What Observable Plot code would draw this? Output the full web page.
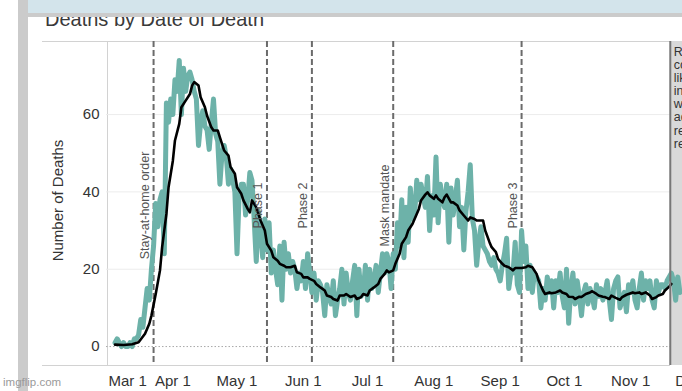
<!DOCTYPE html>
<html><head><meta charset="utf-8">
<script src="https://cdn.jsdelivr.net/npm/d3@7"></script>
<script src="https://cdn.jsdelivr.net/npm/@observablehq/plot@0.6"></script>
<style>
html,body{margin:0;padding:0;background:#fff;width:682px;height:391px;overflow:hidden;font-family:"Liberation Sans",Arial,sans-serif;}
.abs{position:absolute;}
#leftStrip{left:18px;top:0;width:10px;height:391px;background:#cbcbcb;z-index:3;}
#topGray{left:18px;top:0;width:664px;height:17px;background:#cbcbcb;z-index:3;}
#topBlue{left:28px;top:0;width:654px;height:13px;background:#d3e4eb;z-index:4;}
#title{left:45px;top:9px;font-size:20px;line-height:20px;color:#3a3a3a;z-index:2;white-space:nowrap;}
#frameH{left:42px;top:41px;width:628px;height:323px;border-top:1px solid #d2d2d2;border-bottom:1px solid #d2d2d2;z-index:0;}
#frameV{left:107px;top:41px;width:1px;height:325px;background:#d2d2d2;z-index:0;}
#chart{left:0;top:0;z-index:1;}
#wm{left:3px;top:376px;font-size:11.5px;color:#9a9a9a;z-index:5;}
</style></head><body>
<div id="frameH" class="abs"></div>
<div id="frameV" class="abs"></div>
<div id="chart" class="abs"></div>
<div id="title" class="abs">Deaths by Date of Death</div>
<div id="leftStrip" class="abs"></div>
<div id="topGray" class="abs"></div>
<div id="topBlue" class="abs"></div>
<div id="wm" class="abs">imgflip.com</div>
<script>
// Daily deaths, one value per day starting 2020-03-05
const dailyStartDate = "2020-03-05";
const dailyDeaths = [
 1,2,1,0,1,0,0,1,0,2,
 2,3,7,5,10,15,12,20,26,37,
 31,38,40,24,63,58,64,60,69,66,
 74,60,72,66,70,71,69,66,64,52,
 58,61,57,56,51,58,64,55,53,42,
 50,52,49,42,46,43,40,24,39,42,
 42,34,38,45,43,33,22,35,30,23,
 33,25,32,19,25,20,16,26,12,27,
 20,24,19,22,20,15,19,17,22,15,
 24,19,14,19,12,17,16,14,8,16,
 13,11,17,8,12,15,20,11,19,14,
 12,17,21,8,20,13,14,21,12,20,
 15,17,21,14,19,24,19,24,22,15,
 24,20,32,26,38,23,36,27,41,33,
 34,43,38,42,39,36,44,30,39,34,
 49,32,42,38,36,42,27,41,34,38,
 43,31,36,25,35,40,47,33,30,21,
 27,31,26,25,24,22,21,23,20,19,
 17,21,24,28,15,19,19,27,16,14,
 30,22,26,15,21,14,19,18,17,10,
 15,12,18,14,17,10,17,14,19,13,
 10,20,6,15,19,11,17,13,8,14,
 16,11,15,13,10,16,13,15,12,14,
 17,12,7,15,17,18,10,12,14,9,
 16,14,17,12,10,15,19,12,17,15,
 17,12,10,17,14,16,16,15,17,18,
 19,17,12,18,14
];
// 7-day average line, read at these dates
const avgDates = ["03-05","03-09","03-13","03-16","03-19","03-21","03-22","03-24","03-26","03-27","03-29","03-30",
 "04-01","04-02","04-04","04-05","04-07","04-09","04-10","04-11","04-13","04-14","04-16","04-17","04-19","04-20","04-22","04-23","04-25","04-27","04-28","04-30",
 "05-01","05-03","05-04","05-06","05-07","05-08","05-10","05-12","05-14","05-15","05-17","05-18","05-20","05-21","05-23","05-24","05-26","05-28","05-29","05-31",
 "06-01","06-03","06-04","06-06","06-07","06-09","06-11","06-12","06-14","06-15","06-17","06-18","06-20","06-21","06-23","06-25","06-26","06-28","06-29",
 "07-01","07-02","07-04","07-06","07-07","07-09","07-10","07-11","07-13","07-14","07-16","07-17","07-19","07-20","07-22","07-23","07-25","07-26","07-28","07-29","07-30",
 "08-01","08-02","08-03","08-05","08-06","08-07","08-09","08-10","08-12","08-13","08-15","08-17","08-18","08-20","08-21","08-23","08-24","08-25","08-27","08-28","08-30","08-31",
 "09-02","09-03","09-05","09-07","09-08","09-10","09-11","09-13","09-14","09-16","09-18","09-19","09-21","09-22","09-24","09-25","09-27","09-29","09-30",
 "10-02","10-03","10-05","10-06","10-08","10-09","10-11","10-13","10-14","10-16","10-17","10-19","10-20","10-22","10-23","10-25","10-27","10-28","10-30","10-31",
 "11-02","11-03","11-05","11-06","11-08","11-10","11-11","11-13","11-14","11-16","11-17","11-19","11-20"];
const avgValues = [0.5,0.4,0.6,1.1,3.3,5.9,8.0,13.6,19.7,25.7,34.3,41.2,
 48,53.3,57.6,61.9,63.6,65.3,67.5,68.4,67.5,64.5,61.9,59.7,56.7,55.9,55.9,54.1,50.7,49.4,46.4,44.7,
 41.2,39.5,37.8,35.6,34.7,37.8,36,32.6,30,26.6,24.8,23.1,22.2,21.4,20.9,20.5,20.5,20.9,19.2,18.8,
 17.9,17.9,17.5,17,16.2,15.3,14.5,13.2,12.8,12.3,11.9,13.2,13.2,13.6,12.8,13.2,12.3,12.8,13.6,
 13.2,14.5,15.3,16.2,17.5,18.8,19.7,19.2,19.7,21.4,24,26.6,28.3,30,31.7,33,35.6,37.8,39.3,39.9,39.1,
 38.2,39.1,38.2,37.3,38.6,39.3,37.3,37.3,36.5,35.2,33.9,32.6,33.4,33,32.6,32.6,32.6,30,27,25.7,24.4,22.7,
 21.4,20.9,20.5,19.7,20.3,20.3,20.3,20.5,20.9,20.5,18.8,17,14.5,13.6,14,13.8,14,14.5,14,
 13.6,12.9,12.8,12.3,12.9,12.8,13.6,14,14.3,13.6,13.2,12.9,12.8,12.3,13.2,12.6,12.1,12.8,13.4,13.6,
 14,13.8,14,13.6,14,13.2,12.3,12.8,13.2,13.6,14.5,15.5,16.2];
const eventDates = ["03-23","05-15","06-05","07-13","09-11"];
const eventLabels = ["Stay-at-home order","Phase 1","Phase 2","Mask mandate","Phase 3"];
const yTicks = [0,20,40,60];
const gridValues = [20,40,60];
const xTickDates = ["04-01","05-01","06-01","07-01","08-01","09-01","10-01","11-01","12-01"];
const xTickLabels = ["Apr 1","May 1","Jun 1","Jul 1","Aug 1","Sep 1","Oct 1","Nov 1","Dec 1"];
const firstTickDate = "03-01";
const firstTickLabel = "Mar 1";
const panelStartDate = "2020-11-19T12:00:00Z";
const panelEndDate = "2020-11-26T00:00:00Z";
const panelNote = "Recent\ncounts\nlikely\nincomplete,\nwill\nadjust as\nreports are\nreceived.";
const yLabel = "Number of Deaths";

const parse = s => new Date("2020-" + s + "T00:00:00Z");
const start = new Date(dailyStartDate + "T00:00:00Z");
const daily = dailyDeaths.map((v, i) => ({date: new Date(start.getTime() + i * 864e5), value: v}));
const avg = avgDates.map((d, i) => ({date: parse(d), value: avgValues[i]}));
const events = eventDates.map((d, i) => ({date: parse(d), label: eventLabels[i]}));
const xTicks = xTickDates.map((d, i) => ({date: parse(d), label: xTickLabels[i]}));
const panel = [{x1: new Date(panelStartDate), x2: new Date(panelEndDate)}];
const font = "Liberation Sans, Arial, sans-serif";

const chart = Plot.plot({
  width: 682, height: 391,
  marginLeft: 106, marginRight: 0, marginTop: 41, marginBottom: 26,
  style: {background: "transparent", fontFamily: font, overflow: "hidden"},
  x: {type: "utc", domain: [parse(firstTickDate), new Date("2020-11-25T05:00:00Z")], axis: null},
  y: {domain: [-4.9, 78.9], axis: null},
  marks: [
    Plot.ruleY(gridValues, {stroke: "#ececec", strokeWidth: 1}),
    Plot.ruleY([0], {stroke: "#a8a8a8", strokeDasharray: "1.5,2"}),
    Plot.rect(panel, {x1: "x1", x2: "x2", fill: "#d9d9d9"}),
    Plot.ruleX(events, {x: "date", stroke: "#6b6b6b", strokeWidth: 2, strokeDasharray: "6,3"}),
    Plot.line(daily, {x: "date", y: "value", stroke: "#6db2a9", strokeWidth: 5, strokeLinejoin: "round", strokeLinecap: "round"}),
    Plot.line(avg, {x: "date", y: "value", stroke: "#000", strokeWidth: 2.6, strokeLinejoin: "round"}),
    Plot.ruleX(panel, {x: "x1", stroke: "#777", strokeWidth: 2}),
    Plot.text(events, {x: "date", text: "label", rotate: -90, frameAnchor: "middle", textAnchor: "middle", lineAnchor: "middle", dx: -8.5, dy: 2, fontSize: 12.5, fill: "#555"}),
    Plot.text(panel, {x: "x1", text: () => panelNote, frameAnchor: "top", textAnchor: "start", lineAnchor: "top", dx: 3.5, dy: 5, fontSize: 12.5, lineHeight: 1.05, fill: "#333"}),
    Plot.text(yTicks, {y: d => d, text: d => String(d), frameAnchor: "left", textAnchor: "end", dx: -7, fontSize: 15, fill: "#333"}),
    Plot.text([yLabel], {frameAnchor: "left", rotate: -90, textAnchor: "middle", lineAnchor: "middle", dx: -48, dy: -3, fontSize: 15, fill: "#333"}),
    Plot.text(xTicks, {x: "date", text: "label", frameAnchor: "bottom", textAnchor: "middle", lineAnchor: "top", dy: 10, fontSize: 15, fill: "#333"}),
    Plot.text([{date: parse(firstTickDate), label: firstTickLabel}], {x: "date", text: "label", frameAnchor: "bottom", lineAnchor: "top", textAnchor: "start", dx: 2, dy: 10, fontSize: 15, fill: "#333"})
  ]
});
document.getElementById("chart").appendChild(chart);
</script>
</body></html>
